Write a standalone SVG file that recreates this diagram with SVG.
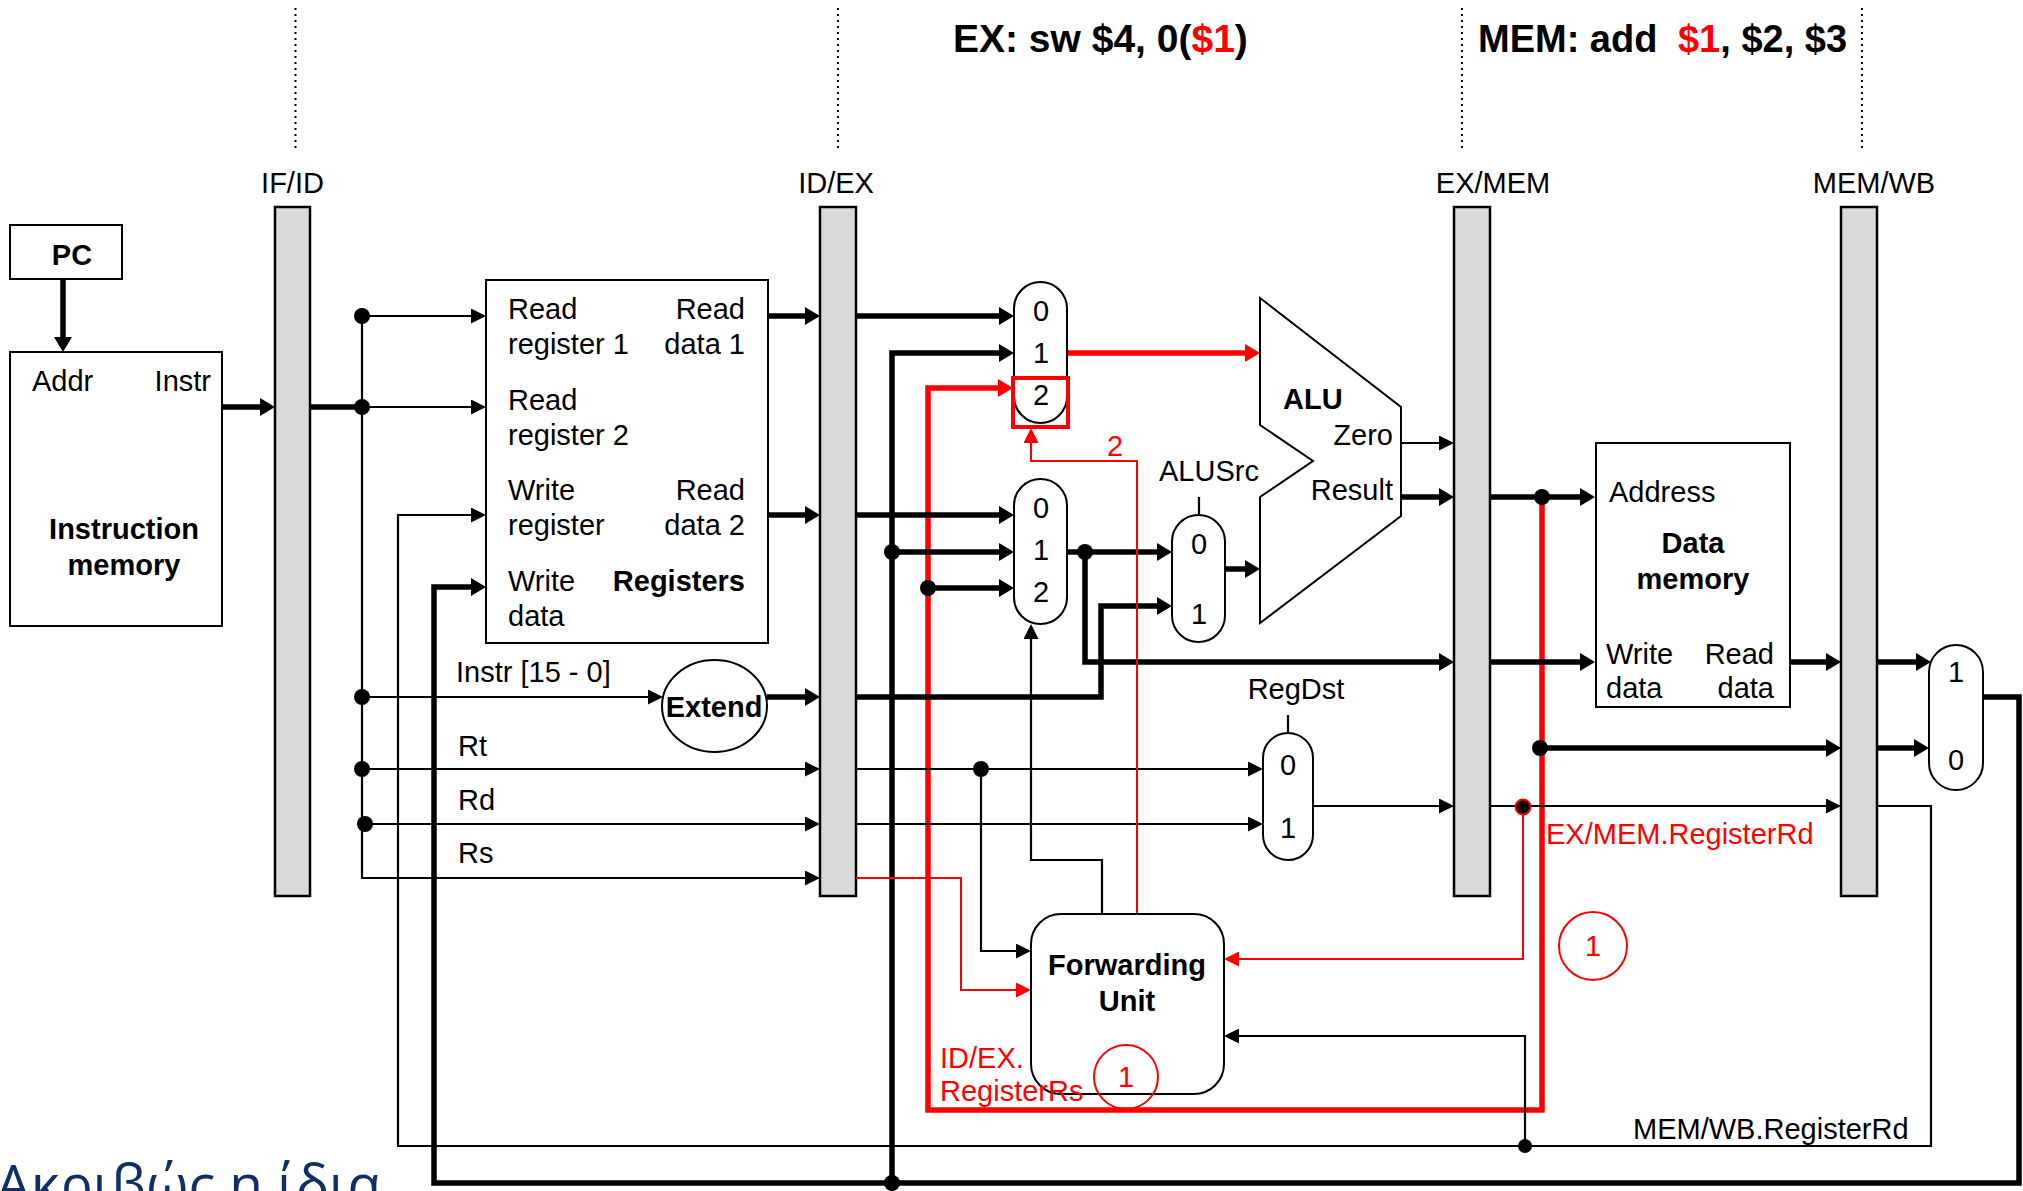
<svg xmlns="http://www.w3.org/2000/svg" width="2023" height="1191" viewBox="0 0 2023 1191">
<style>
text{font-family:"Liberation Sans",Arial,sans-serif;font-size:29px;fill:#000}
.b{font-weight:bold}
.r{fill:#ff0000}
.m{text-anchor:middle}
.e{text-anchor:end}
.box{fill:#fff;stroke:#000;stroke-width:2}
.bar{fill:#d9d9d9;stroke:#000;stroke-width:2.5}
.w{fill:none;stroke:#000;stroke-width:2.2}
.k{fill:none;stroke:#000;stroke-width:5.5}
.rw{fill:none;stroke:#ff0000;stroke-width:2}
.rk{fill:none;stroke:#ff0000;stroke-width:5.5}
.dot{fill:#000}
.dotted{stroke:#000;stroke-width:2;stroke-dasharray:2 4}
</style>
<defs>
<marker id="a" markerUnits="userSpaceOnUse" markerWidth="15" markerHeight="15" refX="0" refY="7.5" orient="auto"><path d="M0,0 L15,7.5 L0,15 z" fill="#000"/></marker>
<marker id="ak" markerUnits="userSpaceOnUse" markerWidth="15" markerHeight="18" refX="0" refY="9" orient="auto"><path d="M0,0 L15,9 L0,18 z" fill="#000"/></marker>
<marker id="ar" markerUnits="userSpaceOnUse" markerWidth="15" markerHeight="15" refX="0" refY="7.5" orient="auto"><path d="M0,0 L15,7.5 L0,15 z" fill="#ff0000"/></marker>
<marker id="ark" markerUnits="userSpaceOnUse" markerWidth="15" markerHeight="18" refX="0" refY="9" orient="auto"><path d="M0,0 L15,9 L0,18 z" fill="#ff0000"/></marker>
</defs>
<rect width="2023" height="1191" fill="#fff"/>

<g id="header">
<line class="dotted" x1="295.5" y1="8" x2="295.5" y2="150"/>
<line class="dotted" x1="838" y1="8" x2="838" y2="150"/>
<line class="dotted" x1="1462" y1="8" x2="1462" y2="150"/>
<line class="dotted" x1="1862" y1="8" x2="1862" y2="150"/>
<text x="953" y="52" class="b" style="font-size:39px">EX: sw $4, 0(<tspan class="r">$1</tspan>)</text>
<text x="1478" y="52" class="b" style="font-size:38px">MEM: add <tspan class="r" dx="10">$1</tspan>, $2, $3</text>
</g>

<g id="pipeline-registers">
<rect class="bar" x="275" y="207" width="35" height="689"/>
<rect class="bar" x="820" y="207" width="36" height="689"/>
<rect class="bar" x="1454" y="207" width="36" height="689"/>
<rect class="bar" x="1841" y="207" width="36" height="689"/>
<text x="292.5" y="193" class="m">IF/ID</text>
<text x="836" y="193" class="m">ID/EX</text>
<text x="1493" y="193" class="m">EX/MEM</text>
<text x="1874" y="193" class="m">MEM/WB</text>
</g>

<g id="connectors">
<path class="k" d="M63,279 V337" marker-end="url(#ak)"/>
<path class="k" d="M222,407 H260" marker-end="url(#ak)"/>
<path class="k" d="M310,407 H362"/>
<path class="w" d="M362,316 V878 H805" marker-end="url(#a)"/>
<path class="w" d="M362,316 H471" marker-end="url(#a)"/>
<path class="w" d="M362,407 H471" marker-end="url(#a)"/>
<path class="w" d="M362,697 H648" marker-end="url(#a)"/>
<path class="w" d="M362,769 H805" marker-end="url(#a)"/>
<path class="w" d="M362,824 H805" marker-end="url(#a)"/>
<path class="k" d="M767,697 H805" marker-end="url(#ak)"/>
<path class="k" d="M768,316 H805" marker-end="url(#ak)"/>
<path class="k" d="M768,515 H805" marker-end="url(#ak)"/>
<path class="k" d="M856,316 H999" marker-end="url(#ak)"/>
<path class="k" d="M892,1183 V353 H999" marker-end="url(#ak)"/>
<path class="rk" d="M1542,497 V1110 H928 V388 H998" marker-end="url(#ark)"/>
<path class="rk" d="M1067,353 H1245" marker-end="url(#ark)"/>
<path class="k" d="M856,515 H999" marker-end="url(#ak)"/>
<path class="k" d="M892,552 H999" marker-end="url(#ak)"/>
<path class="k" d="M928,588 H999" marker-end="url(#ak)"/>
<path class="k" d="M1067,552 H1157" marker-end="url(#ak)"/>
<path class="k" d="M1085,552 V662 H1439" marker-end="url(#ak)"/>
<path class="k" d="M856,697 H1101 V606 H1157" marker-end="url(#ak)"/>
<path class="k" d="M1225,569 H1245" marker-end="url(#ak)"/>
<path class="w" d="M1401,443 H1439" marker-end="url(#a)"/>
<path class="k" d="M1401,497 H1439" marker-end="url(#ak)"/>
<path class="k" d="M1490,497 H1580" marker-end="url(#ak)"/>
<path class="k" d="M1490,662 H1580" marker-end="url(#ak)"/>
<path class="k" d="M1790,662 H1826" marker-end="url(#ak)"/>
<path class="k" d="M1877,662 H1916" marker-end="url(#ak)"/>
<path class="k" d="M1542,748 H1826" marker-end="url(#ak)"/>
<path class="k" d="M1877,748 H1914" marker-end="url(#ak)"/>
<path class="k" d="M1983,697 H2019 V1183 H434 V587 H471" marker-end="url(#ak)"/>
<path class="w" d="M856,769 H1248" marker-end="url(#a)"/>
<path class="w" d="M856,824 H1248" marker-end="url(#a)"/>
<path class="w" d="M1313,806 H1439" marker-end="url(#a)"/>
<path class="w" d="M1490,806 H1826" marker-end="url(#a)"/>
<path class="w" d="M1877,806 H1931 V1146 H398 V515 H471" marker-end="url(#a)"/>
<path class="w" d="M981,769 V951 H1016" marker-end="url(#a)"/>
<path class="rw" d="M856,878 H961 V990 H1016" marker-end="url(#ar)"/>
<path class="rw" d="M1523,807 V959 H1239" marker-end="url(#ar)"/>
<path class="w" d="M1525,1146 V1036 H1239" marker-end="url(#a)"/>
<path class="w" d="M1102,914 V860 H1031 V639" marker-end="url(#a)"/>
<path class="rw" d="M1137,914 V461 H1031 V443" marker-end="url(#ar)"/>
<path class="w" d="M1199,497 V515"/>
<path class="w" d="M1288,715 V733"/>
<circle class="dot" cx="362" cy="316" r="8"/>
<circle class="dot" cx="362" cy="407" r="8"/>
<circle class="dot" cx="362" cy="697" r="8"/>
<circle class="dot" cx="362" cy="769" r="8"/>
<circle class="dot" cx="365" cy="824" r="8"/>
<circle class="dot" cx="981" cy="769" r="8"/>
<circle class="dot" cx="892" cy="552" r="8"/>
<circle class="dot" cx="928" cy="588" r="8"/>
<circle class="dot" cx="1085" cy="552" r="8"/>
<circle class="dot" cx="892" cy="1183" r="8"/>
<circle class="dot" cx="1542" cy="497" r="8"/>
<circle class="dot" cx="1540" cy="748" r="8"/>
<circle class="dot" cx="1525" cy="1146" r="7"/>
<circle cx="1523" cy="807" r="7.5" fill="#000" stroke="#ff0000" stroke-width="2"/>
</g>

<g id="pc">
<rect class="box" x="10" y="225" width="112" height="54"/>
<text x="72" y="265" class="b m">PC</text>
</g>

<g id="instruction-memory">
<rect class="box" x="10" y="352" width="212" height="274"/>
<text x="32" y="391">Addr</text>
<text x="211" y="391" class="e">Instr</text>
<text x="124" y="539" class="b m">Instruction</text>
<text x="124" y="575" class="b m">memory</text>
</g>

<g id="registers">
<rect class="box" x="486" y="280" width="282" height="363"/>
<text x="508" y="319">Read</text>
<text x="508" y="354">register 1</text>
<text x="508" y="410">Read</text>
<text x="508" y="445">register 2</text>
<text x="508" y="500">Write</text>
<text x="508" y="535">register</text>
<text x="508" y="591">Write</text>
<text x="508" y="626">data</text>
<text x="745" y="319" class="e">Read</text>
<text x="745" y="354" class="e">data 1</text>
<text x="745" y="500" class="e">Read</text>
<text x="745" y="535" class="e">data 2</text>
<text x="745" y="591" class="b e">Registers</text>
</g>

<g id="extend">
<ellipse cx="714.5" cy="706" rx="52.5" ry="46" fill="#fff" stroke="#000" stroke-width="2"/>
<text x="714" y="717" class="b m">Extend</text>
</g>

<g id="signal-labels">
<text x="456" y="682">Instr [15 - 0]</text>
<text x="458" y="756">Rt</text>
<text x="458" y="810">Rd</text>
<text x="458" y="863">Rs</text>
</g>

<g id="mux-forward-a">
<rect class="box" x="1014" y="282" width="53" height="141" rx="26.5"/>
<text x="1041" y="321" class="m">0</text>
<text x="1041" y="363" class="m">1</text>
<text x="1041" y="405" class="m">2</text>
<rect x="1013" y="378" width="55" height="49" fill="none" stroke="#ff0000" stroke-width="4"/>
</g>

<g id="mux-forward-b">
<rect class="box" x="1014" y="479" width="53" height="145" rx="26.5"/>
<text x="1041" y="518" class="m">0</text>
<text x="1041" y="560" class="m">1</text>
<text x="1041" y="602" class="m">2</text>
</g>

<g id="mux-alusrc">
<rect class="box" x="1172" y="515" width="53" height="127" rx="26.5"/>
<text x="1199" y="554" class="m">0</text>
<text x="1199" y="624" class="m">1</text>
<text x="1209" y="481" class="m">ALUSrc</text>
</g>

<g id="alu">
<polygon points="1260,298 1401,407 1401,516 1260,623 1260,497 1313,461 1260,425" fill="#fff" stroke="#000" stroke-width="2"/>
<text x="1283" y="409" class="b">ALU</text>
<text x="1393" y="445" class="e">Zero</text>
<text x="1393" y="500" class="e">Result</text>
</g>

<g id="mux-regdst">
<rect class="box" x="1263" y="733" width="50" height="127" rx="25"/>
<text x="1288" y="775" class="m">0</text>
<text x="1288" y="838" class="m">1</text>
<text x="1296" y="699" class="m">RegDst</text>
</g>

<g id="data-memory">
<rect class="box" x="1596" y="443" width="194" height="264"/>
<text x="1609" y="502">Address</text>
<text x="1693" y="553" class="b m">Data</text>
<text x="1693" y="589" class="b m">memory</text>
<text x="1606" y="664">Write</text>
<text x="1606" y="698">data</text>
<text x="1774" y="664" class="e">Read</text>
<text x="1774" y="698" class="e">data</text>
</g>

<g id="mux-wb">
<rect class="box" x="1929" y="645" width="54" height="145" rx="27"/>
<text x="1956" y="682" class="m">1</text>
<text x="1956" y="770" class="m">0</text>
</g>

<g id="forwarding-unit">
<rect class="box" x="1031" y="914" width="193" height="180" rx="30"/>
<text x="1127" y="975" class="b m">Forwarding</text>
<text x="1127" y="1011" class="b m">Unit</text>
</g>

<g id="annotations">
<text x="1115" y="456" class="r m">2</text>
<text x="940" y="1068" class="r">ID/EX.</text>
<text x="940" y="1101" class="r">RegisterRs</text>
<circle cx="1126" cy="1077" r="32" fill="none" stroke="#ff0000" stroke-width="2"/>
<text x="1126" y="1087" class="r m">1</text>
<circle cx="1593" cy="946" r="34" fill="none" stroke="#ff0000" stroke-width="2"/>
<text x="1593" y="956" class="r m">1</text>
<text x="1546" y="844" class="r">EX/MEM.RegisterRd</text>
<text x="1633" y="1139">MEM/WB.RegisterRd</text>
</g>

<text x="-4" y="1204" style="font-family:'Open Sans','Noto Sans',sans-serif;font-size:55px;fill:#0f2f66">Ακριβώς η ίδια</text>
</svg>
